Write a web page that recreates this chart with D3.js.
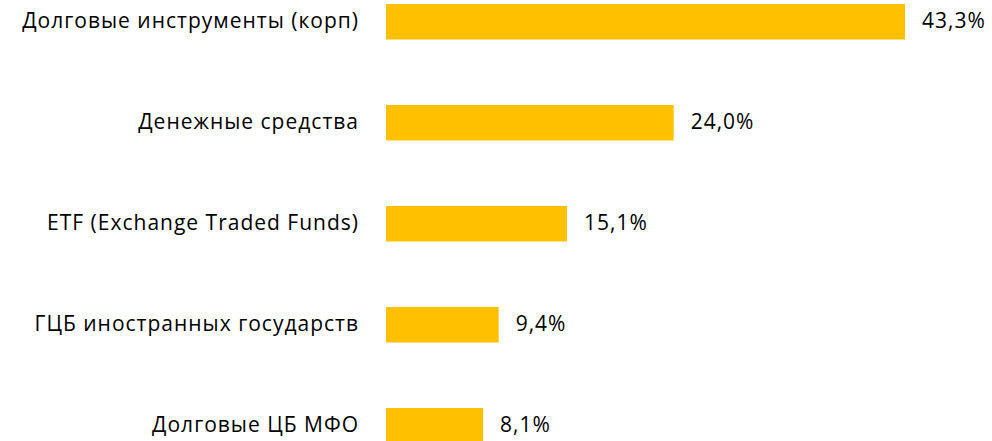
<!DOCTYPE html>
<html>
<head>
<meta charset="utf-8">
<script src="https://cdn.jsdelivr.net/npm/d3@7"></script>
<style>
  body { margin: 0; background: #fff; }
  text { font-family: "Open Sans", "Noto Sans", sans-serif; fill: #000; font-size: 21px; letter-spacing: 1px; }
</style>
</head>
<body>
<div id="chart"></div>
<script>
const categories = [
    'Долговые инструменты (корп)',
    'Денежные средства',
    'ETF (Exchange Traded Funds)',
    'ГЦБ иностранных государств',
    'Долговые ЦБ МФО'
];
const values = [43.3, 24.0, 15.1, 9.4, 8.1];

const width = 992, height = 441;
const margin = { top: 4, left: 386 };

const svg = d3.select('#chart').append('svg')
    .attr('width', width)
    .attr('height', height);

const x = d3.scaleLinear().domain([0, 43.3]).range([0, 519]);
// step ~101px, bar ~35.5px; the last bar runs off the bottom edge
const y = d3.scaleBand().domain(categories).range([0, 439.5]).paddingInner(0.6485).paddingOuter(0);

const g = svg.append('g').attr('transform', `translate(${margin.left},${margin.top})`);

g.selectAll('rect').data(values).enter().append('rect')
    .attr('x', 0)
    .attr('y', (d, i) => y(categories[i]))
    .attr('width', d => x(d))
    .attr('height', y.bandwidth())
    .attr('fill', '#FFC000');

g.selectAll('.val').data(values).enter().append('text')
    .attr('class', 'val')
    .attr('x', d => x(d) + 17)
    .attr('y', (d, i) => y(categories[i]) + y.bandwidth() / 2)
    .attr('dy', '0.32em')
    .text(d => d3.format('.1f')(d).replace('.', ',') + '%');

g.selectAll('.cat').data(categories).enter().append('text')
    .attr('class', 'cat')
    .attr('x', -27)
    .attr('y', d => y(d) + y.bandwidth() / 2)
    .attr('dy', '0.32em')
    .attr('text-anchor', 'end')
    .text(d => d);
</script>
</body>
</html>
